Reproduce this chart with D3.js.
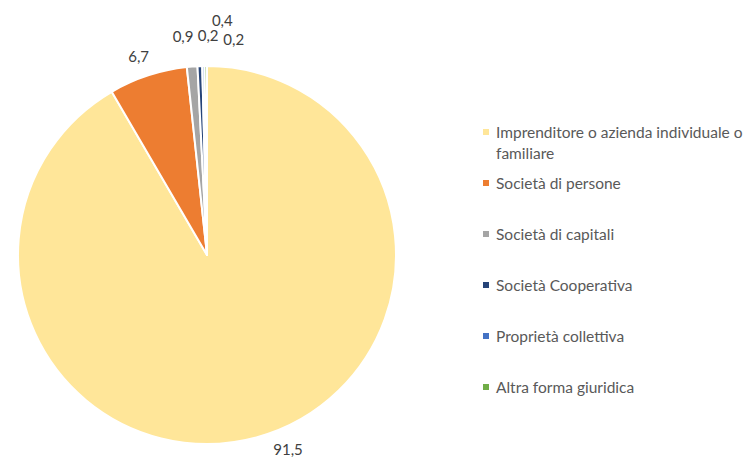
<!DOCTYPE html>
<html>
<head>
<meta charset="utf-8">
<script src="https://cdn.jsdelivr.net/npm/d3@7"></script>
<style>
  body { margin: 0; background: #fff; }
  text { font-family: Lato, "Open Sans", sans-serif; }
</style>
</head>
<body>
<script>
// chart data
var categories = [
    "Imprenditore o azienda individuale o familiare",
    "Società di persone",
    "Società di capitali",
    "Società Cooperativa",
    "Proprietà collettiva",
    "Altra forma giuridica"
];
var values = [91.5, 6.7, 0.9, 0.4, 0.2, 0.2];
var valueLabels = ["91,5", "6,7", "0,9", "0,4", "0,2", "0,2"];
var colors = ["#FFE699", "#ED7D31", "#A5A5A5", "#264478", "#4472C4", "#70AD47"];

// small nudges for the crowded labels (like excel does)
var labelNudge = [[28, -2], [-5, -6], [-8, -17], [23, -32], [5, -17], [28, -13]];

var width = 745, height = 458;
var cx = 207, cy = 255, radius = 189;

var svg = d3.select("body")
    .append("svg")
    .attr("width", width)
    .attr("height", height);

var pie = d3.pie()
    .sort(null)
    .value(function(d) { return d; });

var arcs = pie(values);

var arc = d3.arc()
    .innerRadius(0)
    .outerRadius(radius);

var labelArc = d3.arc()
    .innerRadius(radius + 14)
    .outerRadius(radius + 14);

var g = svg.append("g")
    .attr("transform", "translate(" + cx + "," + cy + ")");

// slices
g.selectAll(".slice")
    .data(arcs)
    .enter()
    .append("path")
    .attr("class", "slice")
    .attr("d", arc)
    .style("fill", function(d, i) { return colors[i]; })
    .style("stroke", "#fff")
    .style("stroke-width", 2)
    .style("stroke-linejoin", "round");

// value labels outside the pie
g.selectAll(".valLabel")
    .data(arcs)
    .enter()
    .append("text")
    .attr("class", "valLabel")
    .attr("text-anchor", "middle")
    .attr("dominant-baseline", "central")
    .attr("x", function(d, i) { return labelArc.centroid(d)[0] + labelNudge[i][0]; })
    .attr("y", function(d, i) { return labelArc.centroid(d)[1] + labelNudge[i][1]; })
    .style("font-size", "15px")
    .style("fill", "#404040")
    .text(function(d, i) { return valueLabels[i]; });

// legend
var legendX = 483, legendTop = 132, legendStep = 51, lineH = 21;
var legend = svg.append("g").attr("class", "legend");

categories.forEach(function(name, i) {
    var y = i === 0 ? legendTop : 183 + (i - 1) * legendStep;
    legend.append("rect")
        .attr("x", legendX)
        .attr("y", y - 3)
        .attr("width", 6)
        .attr("height", 6)
        .style("fill", colors[i]);

    var t = legend.append("text")
        .attr("x", legendX + 13)
        .attr("y", y)
        .attr("dominant-baseline", "central")
        .style("font-size", "15.5px")
        .style("fill", "#595959");

    // simple word wrap
    var words = name.split(" ");
    var line = [];
    var tspan = t.append("tspan").attr("x", legendX + 13);
    words.forEach(function(w) {
        line.push(w);
        tspan.text(line.join(" "));
        if (tspan.node().getComputedTextLength() > 256 && line.length > 1) {
            line.pop();
            tspan.text(line.join(" "));
            line = [w];
            tspan = t.append("tspan")
                .attr("x", legendX + 13)
                .attr("dy", lineH)
                .text(w);
        }
    });
});
</script>
</body>
</html>
